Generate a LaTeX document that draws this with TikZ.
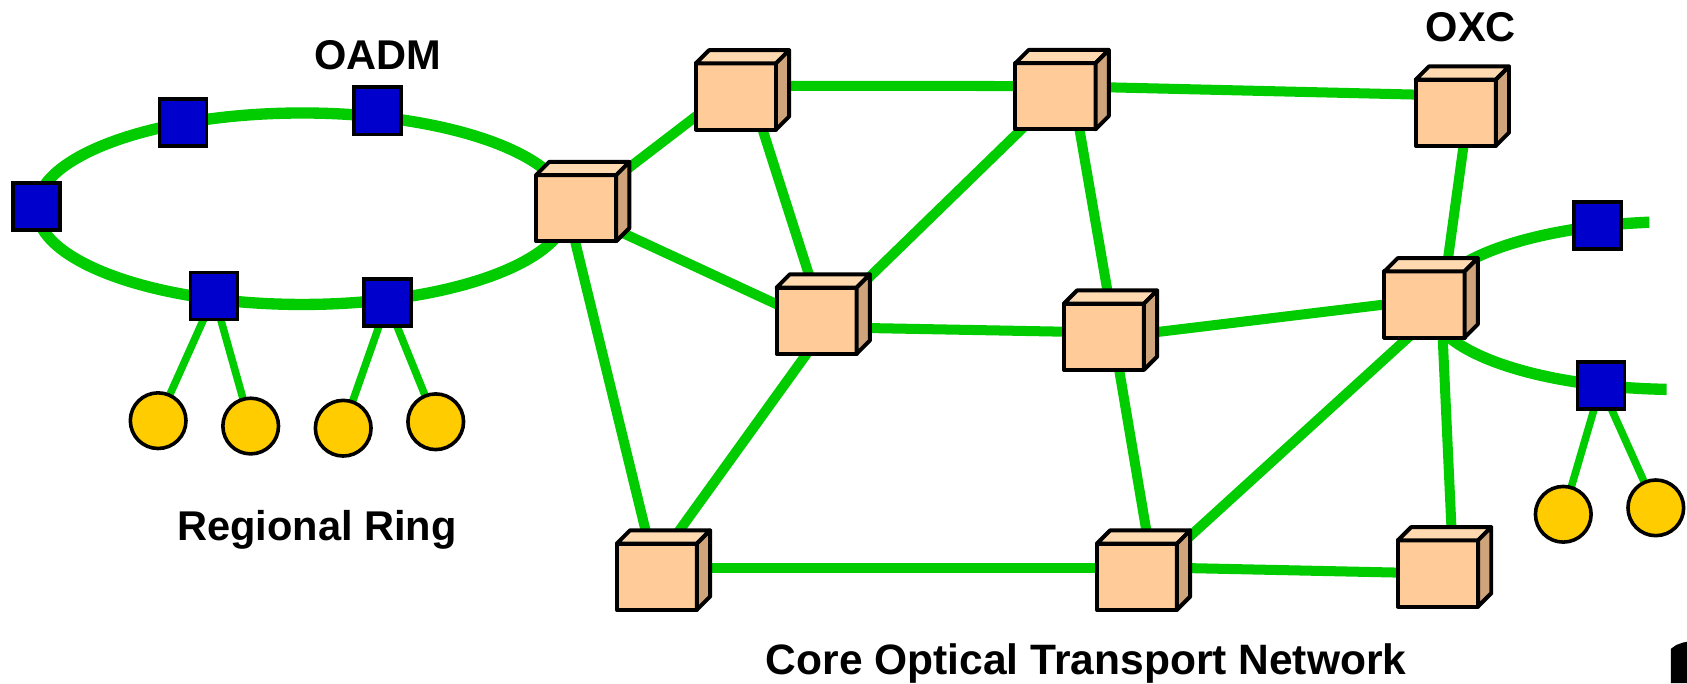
\documentclass[tikz,border=0pt]{standalone}
\usepackage{fontspec}
\setmainfont{Liberation Sans}
\usetikzlibrary{backgrounds}
\definecolor{fiber}{HTML}{00CC00}
\definecolor{oadmblue}{HTML}{0000CC}
\definecolor{hostgold}{HTML}{FFCC00}
\definecolor{boxfront}{HTML}{FFCC99}
\definecolor{boxtop}{HTML}{FFDAB0}
\definecolor{boxside}{HTML}{CFA47A}
\tikzset{
  oxcfront/.style={draw=black, fill=boxfront, line width=2.1pt, minimum width=1.49cm,
    minimum height=1.23cm, inner sep=0pt, outer sep=0pt, line join=round},
  oxcface/.style={draw=black, line width=2.1pt, line join=round},
  oadm/.style={draw=black, fill=oadmblue, line width=1.9pt, minimum size=0.875cm,
    inner sep=0pt, outer sep=0pt},
  host/.style={circle, draw=black, fill=hostgold, line width=1.9pt, minimum size=1.035cm,
    inner sep=0pt, outer sep=0pt},
  link/.style={draw=fiber, line width=5.3pt},
  ring/.style={draw=fiber, line width=6pt},
  tap/.style={draw=fiber, line width=4pt},
  lbl/.style={font=\fontsize{22}{26}\selectfont\bfseries, anchor=base, inner sep=0pt},
}
% optical cross-connect drawn as a small box: front face node plus top and side faces
\newcommand\oxcbox[2]{%
  \node[oxcfront] (#1) at (#2) {};
  \draw[oxcface, fill=boxtop] (#1.north west) -- ++(0.246cm,0.246cm) -- ++(1.49cm,0)
    -- (#1.north east) -- cycle;
  \draw[oxcface, fill=boxside] (#1.north east) -- ++(0.246cm,0.246cm) -- ++(0,-1.23cm)
    -- (#1.south east) -- cycle;
}
\begin{document}
\begin{tikzpicture}[x=0.02cm, y=-0.02cm]
\useasboundingbox (0,0) rectangle (1568,635);

% core OXC boxes
\oxcbox{A}{535.5,193.5}
\oxcbox{B}{684,89.7}
\oxcbox{C}{981,89.5}
\oxcbox{D}{1353,104.8}
\oxcbox{E}{759,298}
\oxcbox{F}{1026,313}
\oxcbox{G}{1324,283}
\oxcbox{H}{610.5,536}
\oxcbox{I}{1056.7,536}
\oxcbox{J}{1336.5,533}

% add/drop multiplexers on the regional ring
\node[oadm] (s1) at (34,192) {};
\node[oadm] (s2) at (170,114) {};
\node[oadm] (s3) at (351,103) {};
\node[oadm] (s4) at (199,275) {};
\node[oadm] (s5) at (360,281) {};
% add/drop multiplexers on the right-hand ring
\node[oadm] (r1) at (1485,209.5) {};
\node[oadm] (r2) at (1488,358.5) {};

% client hosts
\node[host] (h1) at (147,391) {};
\node[host] (h2) at (233,396) {};
\node[host] (h3) at (319,398) {};
\node[host] (h4) at (405,392) {};
\node[host] (h5) at (1453,478) {};
\node[host] (h6) at (1539,472) {};

\begin{scope}[on background layer]
  % regional ring
  \draw[ring] (281,194) ellipse [x radius=4.94cm, y radius=1.78cm];
  % partial ring on the right, cut off flat at its ends
  \begin{scope}
    \clip (1300,120) -- (1533,120) -- (1533,284) -- (1549,284) -- (1549,440)
      -- (1300,440) -- cycle;
    \draw[ring] (1560,284) ellipse [x radius=4.6cm, y radius=1.56cm];
  \end{scope}
  % core mesh
  \draw[link] (A.center) -- ([shift={(0,-10)}]B.center);
  \draw[link] ([shift={(0,-10)}]B.center) -- ([shift={(0,-9.5)}]C.center);
  \draw[link] ([shift={(0,-9.5)}]C.center) -- ([shift={(0,-16)}]D.center);
  \draw[link] (C.center) -- ([shift={(7.5,0)}]E.center);
  \draw[link] ([shift={(17,0)}]C.center) -- ([shift={(10.7,0)}]F.center);
  \draw[link] ([shift={(15,0)}]B.center) -- ([shift={(6.5,0)}]E.center);
  \draw[link] ([shift={(0,3)}]A.center) -- ([shift={(0,2)}]E.center);
  \draw[link] ([shift={(-8.5,0)}]A.center) -- (H.center);
  \draw[link] ([shift={(13,0)}]E.center) -- ([shift={(-10,0)}]H.center);
  \draw[link] ([shift={(0,6)}]E.center) -- ([shift={(0,-4)}]F.center);
  \draw[link] ([shift={(0,1.6)}]F.center) -- ([shift={(17,-6.5)}]G.center);
  \draw[link] ([shift={(9,0)}]F.center) -- ([shift={(16,0)}]I.center);
  \draw[link] ([shift={(11.5,0)}]D.center) -- ([shift={(16,0)}]G.center);
  \draw[link] ([shift={(18.5,0)}]G.center) -- ([shift={(8,0)}]I.center);
  \draw[link] ([shift={(15.5,0)}]G.center) -- ([shift={(14.5,0)}]J.center);
  \draw[link] ([shift={(0,-8.4)}]H.center) -- ([shift={(0,-8.4)}]I.center);
  \draw[link] ([shift={(0,-9)}]I.center) -- (J.center);
  % drops to the hosts
  \draw[tap] (s4) -- (h1);
  \draw[tap] (s4) -- (h2);
  \draw[tap] (s5) -- (h3);
  \draw[tap] (s5) -- (h4);
  \draw[tap] (r2) -- (h5);
  \draw[tap] (r2) -- (h6);
\end{scope}

% labels
\node[lbl] (oadmlabel) at (351,65) {OADM};
\node[lbl] (oxclabel) at (1367,38.5) {OXC};
\node[lbl] (ringlabel) at (294.5,502.5) {Regional Ring};
\node[lbl, font=\fontsize{22.5}{26}\selectfont\bfseries] (corelabel) at (1009.5,626.5)
  {Core Optical Transport Network};

% dark shape at the lower right edge
\fill[black] (1553,635) -- (1553,603) -- (1558,599.5) -- (1564,597.3) -- (1568,596.5)
  -- (1568,635) -- cycle;
\end{tikzpicture}
\end{document}
